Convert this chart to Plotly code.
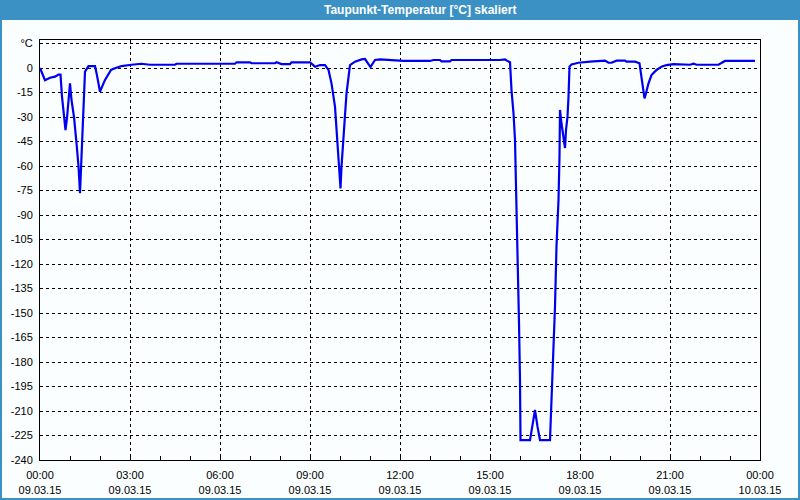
import plotly.graph_objects as go

# ---- data ----
times = [
    "00:00", "00:10", "00:20", "00:30", "00:37", "00:41", "00:44", "00:49", "00:51", "00:54",
    "00:57", "01:00", "01:03", "01:08", "01:13", "01:17", "01:20", "01:22", "01:25", "01:28",
    "01:30", "01:37", "01:50", "01:53", "02:00", "02:10", "02:22", "02:30", "02:43", "03:03",
    "03:23", "03:40", "04:30", "04:33", "06:30", "06:33", "07:00", "07:03", "07:50", "07:53",
    "08:03", "08:20", "08:23", "09:00", "09:10", "09:20", "09:30", "09:37", "09:43", "09:50",
    "09:55", "09:59", "10:01", "10:03", "10:08", "10:13", "10:20", "10:30", "10:43", "10:50",
    "11:01", "11:10", "11:20", "12:07", "13:00", "13:07", "13:20", "13:23", "13:40", "13:43",
    "15:20", "15:25", "15:30", "15:37", "15:40", "15:43", "15:47", "15:50", "15:53", "15:55",
    "15:58", "16:00", "16:01", "16:20", "16:25", "16:30", "16:35", "16:40", "17:00", "17:03",
    "17:07", "17:10", "17:13", "17:17", "17:19", "17:20", "17:23", "17:27", "17:30", "17:32",
    "17:35", "17:37", "17:39", "17:43", "17:57", "18:20", "18:47", "18:50", "18:57", "19:03",
    "19:13", "19:30", "19:33", "19:50", "19:59", "20:01", "20:04", "20:07", "20:09", "20:12",
    "20:17", "20:23", "20:33", "20:43", "20:53", "21:07", "21:20", "21:23", "21:40", "21:47",
    "21:53", "22:37", "22:50", "23:50",
]
dewpoint = [
    0.0, -7.5, -6.0, -5.3, -4.0, -4.0, -17.5, -30.0, -38.0, -30.6,
    -19.6, -9.4, -19.6, -30.0, -46.0, -60.0, -76.7, -62.0, -46.0, -17.5,
    -2.2, 1.2, 1.2, -3.0, -14.5, -7.3, -1.2, -0.2, 1.2, 2.0,
    2.6, 2.0, 2.0, 2.6, 2.6, 3.5, 3.5, 2.9, 2.9, 3.5,
    2.4, 2.4, 3.5, 3.5, 0.8, 1.8, 1.8, -1.2, -9.4, -23.7,
    -44.0, -62.5, -73.7, -60.4, -36.0, -15.5, 1.8, 3.9, 5.3, 5.5,
    0.6, 4.9, 5.3, 4.3, 4.3, 4.9, 4.9, 4.1, 4.1, 4.9,
    4.9, 5.3, 5.3, 3.9, 3.5, -13.5, -27.7, -44.0, -80.8, -117.6,
    -156.0, -191.0, -227.8, -227.8, -219.6, -209.4, -219.6, -227.8, -227.8, -203.0,
    -178.8, -146.0, -109.0, -80.8, -54.0, -25.7, -34.0, -44.0, -49.0, -38.0,
    -29.8, -17.6, 0.8, 2.2, 3.2, 3.9, 4.3, 4.5, 3.2, 3.2,
    4.5, 4.5, 3.9, 3.9, 2.9, -1.2, -7.3, -13.5, -18.6, -15.5,
    -9.4, -4.3, -1.2, 0.8, 1.8, 2.4, 2.4, 2.0, 2.0, 2.7,
    2.0, 2.0, 4.3, 4.3,
]
x_tick_vals = ["2015-03-09 00:00", "2015-03-09 03:00", "2015-03-09 06:00", "2015-03-09 09:00",
               "2015-03-09 12:00", "2015-03-09 15:00", "2015-03-09 18:00", "2015-03-09 21:00",
               "2015-03-10 00:00"]
x_tick_text = ["00:00<br>09.03.15", "03:00<br>09.03.15", "06:00<br>09.03.15", "09:00<br>09.03.15",
               "12:00<br>09.03.15", "15:00<br>09.03.15", "18:00<br>09.03.15", "21:00<br>09.03.15",
               "00:00<br>10.03.15"]
y_tick_vals = [15, 0, -15, -30, -45, -60, -75, -90, -105, -120, -135, -150, -165,
               -180, -195, -210, -225, -240]
y_tick_text = ["°C", "0", "-15", "-30", "-45", "-60", "-75", "-90", "-105", "-120", "-135",
               "-150", "-165", "-180", "-195", "-210", "-225", "-240"]
title_text = "Taupunkt-Temperatur [°C] skaliert"

x_vals = ["2015-03-09 " + t for t in times]

W, H = 800, 500
ML, MR, MT, MB = 40, 40, 40, 40
PW, PH = W - ML - MR, H - MT - MB
BLUE = "#3c91c4"
BG = "#fafefe"


def px_x(p):
    return (p - ML) / PW


def px_y(p):
    return 1 - (p - MT) / PH


fig = go.Figure()
fig.add_trace(go.Scatter(x=x_vals, y=dewpoint, mode="lines",
                         line=dict(color="#0000f0", width=2.2), hoverinfo="skip"))

font = dict(family="Liberation Sans, Arial, sans-serif", size=11, color="black")

fig.update_layout(
    width=W, height=H,
    margin=dict(l=ML, r=MR, t=MT, b=MB, pad=0),
    paper_bgcolor=BG, plot_bgcolor=BG,
    showlegend=False,
    font=font,
    xaxis=dict(
        type="date", automargin=False,
        range=["2015-03-09 00:00", "2015-03-10 00:00"],
        tickvals=x_tick_vals, ticktext=x_tick_text,
        ticks="inside", ticklen=4, tickcolor="black",
        minor=dict(dtick=3600000, tick0="2015-03-09 00:00", ticks="inside",
                   ticklen=4, tickcolor="black", showgrid=False),
        showgrid=True, gridcolor="black", gridwidth=1, griddash="3px,3px",
        showline=True, linecolor="black", linewidth=1, mirror=True,
        zeroline=False, tickfont=font, ticklabelstandoff=5,
    ),
    yaxis=dict(
        automargin=False,
        range=[-240, 17.14],
        tickvals=y_tick_vals, ticktext=y_tick_text,
        ticks="", showgrid=True, gridcolor="black", gridwidth=1, griddash="3px,3px",
        showline=True, linecolor="black", linewidth=1, mirror=True,
        zeroline=False, tickfont=font, ticklabelstandoff=4,
    ),
    shapes=[
        # title bar
        dict(type="rect", xref="paper", yref="paper",
             x0=px_x(0), x1=px_x(W), y0=px_y(0), y1=px_y(20),
             fillcolor=BLUE, line=dict(width=0), layer="below"),
        # outer border left / right / bottom
        dict(type="rect", xref="paper", yref="paper",
             x0=px_x(0), x1=px_x(2), y0=px_y(0), y1=px_y(H),
             fillcolor=BLUE, line=dict(width=0), layer="below"),
        dict(type="rect", xref="paper", yref="paper",
             x0=px_x(W - 2), x1=px_x(W), y0=px_y(0), y1=px_y(H),
             fillcolor=BLUE, line=dict(width=0), layer="below"),
        dict(type="rect", xref="paper", yref="paper",
             x0=px_x(0), x1=px_x(W), y0=px_y(H - 2), y1=px_y(H),
             fillcolor=BLUE, line=dict(width=0), layer="below"),
    ],
    annotations=[
        dict(text="<b>" + title_text + "</b>", xref="paper", yref="paper",
             x=px_x(420), y=px_y(10), xanchor="center", yanchor="middle",
             showarrow=False,
             font=dict(family="Liberation Sans, Arial, sans-serif", size=12, color="white")),
    ],
)

fig.write_html("out.html")
